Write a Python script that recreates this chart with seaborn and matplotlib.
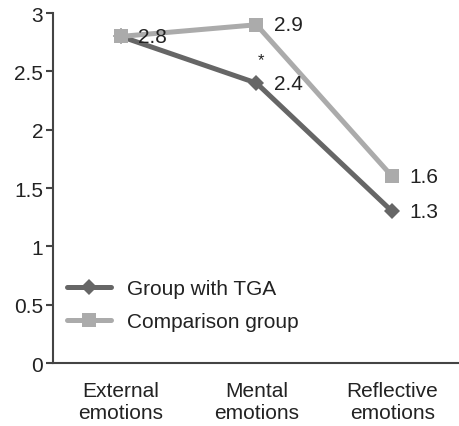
import matplotlib
matplotlib.use("Agg")
import matplotlib.pyplot as plt
import seaborn as sns
import pandas as pd

categories = ["External\nemotions", "Mental\nemotions", "Reflective\nemotions"]
tga_values = [2.8, 2.4, 1.3]
comparison_values = [2.8, 2.9, 1.6]
series_names = ["Group with TGA", "Comparison group"]
y_ticks = [0, 0.5, 1, 1.5, 2, 2.5, 3]
y_tick_labels = ["0", "0.5", "1", "1.5", "2", "2.5", "3"]

sns.set_style("white")
plt.rcParams["font.family"] = ["Liberation Sans", "DejaVu Sans"]

df = pd.DataFrame({
    "pos": list(range(len(categories))) * 2,
    "value": tga_values + comparison_values,
    "group": [series_names[0]] * 3 + [series_names[1]] * 3,
})

colors = {series_names[0]: "#666666", series_names[1]: "#ababab"}
markers = {series_names[0]: "D", series_names[1]: "s"}
msize = {series_names[0]: 8.5, series_names[1]: 10.5}

fig = plt.figure(figsize=(4.6, 4.27), dpi=100)
ax = fig.add_axes([0.115, 0.1475, 0.885, 0.8195])

for name in series_names:
    sub = df[df["group"] == name]
    sns.lineplot(data=sub, x="pos", y="value", color=colors[name], marker=markers[name],
                 markersize=msize[name], markeredgewidth=0, linewidth=3.6, ax=ax,
                 label=name, zorder=3)

fs = 15
# value labels
for vals in (tga_values, comparison_values):
    for i, v in enumerate(vals):
        if vals is tga_values and i == 0:
            continue
        ax.annotate(f"{v}", (i, v), xytext=(12.5, 0), textcoords="offset points",
                    ha="left", va="center", fontsize=fs, color="#222222", zorder=5)
ax.annotate("*", (1.03, 2.6), ha="center", va="center", fontsize=12, color="#222222")

ax.set_xlim(-0.5, 2.5)
ax.set_ylim(0, 3)
ax.set_yticks(y_ticks)
ax.set_yticklabels(y_tick_labels, fontsize=fs, color="#222222")
ax.set_xticks([0.5, 1.5, 2.5])
ax.set_xticklabels([])
ax.set_xticks([0, 1, 2], minor=True)
ax.set_xticklabels(categories, minor=True, fontsize=fs, color="#222222", linespacing=1.2)
ax.tick_params(axis="x", which="minor", length=0, pad=13)
ax.tick_params(axis="x", which="major", direction="out", length=5, width=1.5, color="#444444")
ax.tick_params(axis="y", direction="out", length=5, width=1.5, color="#444444", pad=2, left=True)
ax.set_xlabel("")
ax.set_ylabel("")

for s in ["top", "right"]:
    ax.spines[s].set_visible(False)
for s in ["left", "bottom"]:
    ax.spines[s].set_color("#444444")
    ax.spines[s].set_linewidth(1.5)

ax.legend(loc="center left", bbox_to_anchor=(0.035, 0.166), frameon=False, fontsize=fs,
          handlelength=2.1, handletextpad=0.75, labelspacing=0.68, borderaxespad=0,
          borderpad=0, labelcolor="#222222")

fig.savefig("out.png", dpi=100)
